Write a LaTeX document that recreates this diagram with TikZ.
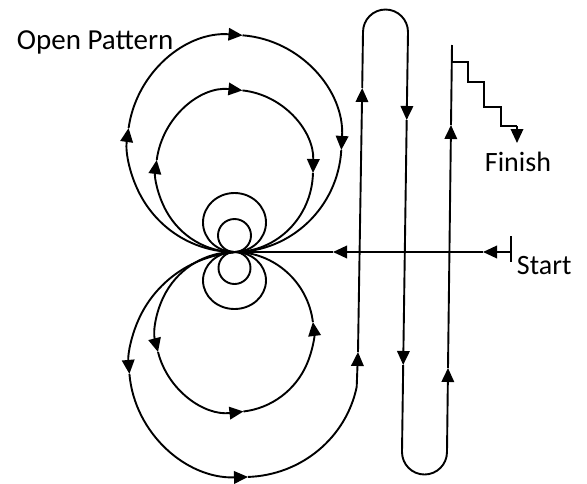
\documentclass[tikz,border=0pt]{standalone}
\usepackage{fontspec}
\setmainfont{Carlito}
\usetikzlibrary{arrows.meta,calc}
\begin{document}
\begin{tikzpicture}[x=1pt, y=1pt, yscale=-1, line width=1.9pt,
  tri/.style={-{Triangle[length=14pt,width=12.5pt]}},
  lbl/.style={font=\fontsize{28}{30}\selectfont, inner sep=0pt, anchor=base west}]
\useasboundingbox (0,0) rectangle (587,483);
\coordinate (P) at (234.5,252);
% top outer loop (circle tangent at P)
\coordinate (CTO) at (234.5,143.5);
\draw[tri] ($(CTO)+(90:107 and 108.5)$) arc[start angle=90, end angle=188.2, x radius=107, y radius=108.5];
\draw[tri] ($(CTO)+(188.2:107 and 108.5)$) arc[start angle=188.2, end angle=274.3, x radius=107, y radius=108.5];
\draw[tri] ($(CTO)+(274.3:107 and 108.5)$) arc[start angle=274.3, end angle=363.4, x radius=107, y radius=108.5];
\draw ($(CTO)+(363.4:107 and 108.5)$) arc[start angle=363.4, end angle=450, x radius=107, y radius=108.5];
% top inner loop
\coordinate (CTI) at (234.5,171);
\draw[tri] ($(CTI)+(90:78.5 and 81)$) arc[start angle=90, end angle=187.8, x radius=78.5, y radius=81];
\draw[tri] ($(CTI)+(187.8:78.5 and 81)$) arc[start angle=187.8, end angle=275.8, x radius=78.5, y radius=81];
\draw[tri] ($(CTI)+(275.8:78.5 and 81)$) arc[start angle=275.8, end angle=361.4, x radius=78.5, y radius=81];
\draw ($(CTI)+(361.4:78.5 and 81)$) arc[start angle=361.4, end angle=450, x radius=78.5, y radius=81];
% bottom inner loop
\coordinate (CBI) at (234.5,332);
\draw[tri] ($(CBI)+(270:79 and 80)$) arc[start angle=270, end angle=165.5, x radius=79, y radius=80];
\draw[tri] ($(CBI)+(165.5:79 and 80)$) arc[start angle=165.5, end angle=83.5, x radius=79, y radius=80];
\draw[tri] ($(CBI)+(83.5:79 and 80)$) arc[start angle=83.5, end angle=-7.2, x radius=79, y radius=80];
\draw ($(CBI)+(-7.2:79 and 80)$) arc[start angle=-7.2, end angle=-90, x radius=79, y radius=80];
% bottom outer arc, ending at the foot of line A
\coordinate (CBO) at (244,364.5);
\draw[tri] ($(CBO)+(265.3:115 and 112.5)$) arc[start angle=265.3, end angle=175.2, x radius=115, y radius=112.5];
\draw[tri] ($(CBO)+(175.2:115 and 112.5)$) arc[start angle=175.2, end angle=88, x radius=115, y radius=112.5];
\draw ($(CBO)+(88:115 and 112.5)$) arc[start angle=88, end angle=11.5, x radius=115, y radius=112.5] coordinate (E);
% small loops at the pinch
\coordinate (CTS) at (234.5,235.5);
\coordinate (CBS) at (234.5,268);
\coordinate (CTM) at (234.5,222.5);
\coordinate (CBM) at (234.5,280.5);
\draw (CTS) circle[radius=16.5];
\draw (CBS) circle[radius=16];
\draw (CTM) ellipse[x radius=31.5, y radius=29.5];
\draw (CBM) ellipse[x radius=31.5, y radius=28.5];
% line A (up)
\coordinate (A1) at (358,352);
\coordinate (A2) at (362.2,88);
\coordinate (AT) at (363,32);
\draw[tri] (E) -- (A1);
\draw[tri] (A1) -- (A2);
\draw (A2) -- (AT);
% top U-turn
\coordinate (BT) at (408,32);
\draw (AT) arc[start angle=180, end angle=360, radius=22.5];
% line B (down)
\coordinate (B1) at (406.7,120);
\coordinate (B2) at (403.2,365);
\coordinate (BB) at (402,452);
\draw[tri] (BT) -- (B1);
\draw[tri] (B1) -- (B2);
\draw (B2) -- (BB);
% bottom U-turn
\coordinate (CB) at (447,452);
\draw (BB) arc[start angle=180, end angle=0, radius=22.5];
% line C (up)
\coordinate (C1) at (448,368);
\coordinate (C2) at (451,125);
\coordinate (CT) at (452,45);
\draw[tri] (CB) -- (C1);
\draw[tri] (C1) -- (C2);
\draw (C2) -- (CT);
% staircase to finish
\coordinate (F0) at (452,62);
\coordinate (F1) at (468,82);
\coordinate (F2) at (484,107);
\coordinate (F3) at (501,126);
\coordinate (F4) at (517,126);
\coordinate (F5) at (517,143);
\draw (F0) -| (F1) -| (F2) -| (F3) -- (F4);
\draw[tri] (F4) -- (F5);
% start line
\coordinate (S) at (511,252);
\coordinate (S1) at (483,252);
\coordinate (S2) at (333,252);
\coordinate (Stop) at (511,236);
\coordinate (Sbot) at (511,262);
\draw (Stop) -- (Sbot);
\draw[tri] (S) -- (S1);
\draw[tri] (S1) -- (S2);
\draw (S2) -- (P);
% labels
\node[lbl, font=\fontsize{29}{31}\selectfont] (open) at (16,49) {Open Pattern};
\node[lbl] (fin) at (484,171) {Finish};
\node[lbl] (start) at (516,274) {Start};
\end{tikzpicture}
\end{document}
